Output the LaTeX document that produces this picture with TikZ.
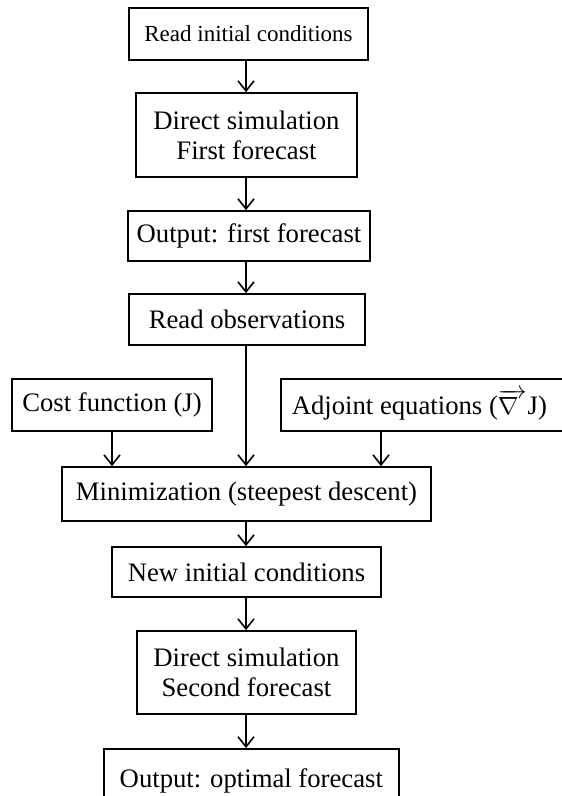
\documentclass[tikz,border=0pt]{standalone}
\usepackage{fontspec}
\setmainfont{Liberation Serif}
\usetikzlibrary{arrows.meta}
\tikzset{
  box/.style={draw, line width=1.7pt, inner sep=0pt, align=center,
    font=\fontsize{26.7}{30}\selectfont},
  arr/.style={line width=1.6pt, -{Straight Barb[length=10pt,width=16pt,line width=1.6pt]}}
}
\newcommand{\boxat}[6]{% name, x1, x2, y1, y2, text
  \node[box, minimum width=#3pt-#2pt, minimum height=#5pt-#4pt]
    (#1) at ({(#2+#3)/2},{(#4+#5)/2}) {#6};}
\begin{document}
\begin{tikzpicture}[x=1pt,y=-1pt]
\useasboundingbox (0,0) rectangle (562,796);
\clip (0,0) rectangle (562,796);
\node[box, font=\fontsize{23}{26}\selectfont, minimum width=239pt, minimum height=52pt]
  (init) at (248.5,34) {Read initial conditions};
\boxat{sim1}{136}{357}{93}{177}{Direct simulation\\First forecast}
\boxat{out1}{128}{370}{211}{261}{Output: first forecast}
\boxat{obs}{129}{365}{294}{345}{Read observations}
\boxat{cost}{12}{212}{379}{431}{Cost function (J)}
\node[box, minimum width=290pt, minimum height=52pt, anchor=west]
  (adj) at (280,405) {\hspace*{-13pt}Adjoint equations ($\overrightarrow{\nabla\hspace{8pt}}$\hspace{1pt}J)};
\boxat{min}{62}{431}{467}{521}{Minimization (steepest descent)}
\boxat{new}{112}{381}{547}{597}{New initial conditions}
\boxat{sim2}{137}{356}{631}{714}{Direct simulation\\Second forecast}
\node[box, minimum width=295pt, minimum height=64pt, anchor=north west]
  (out2) at (103,748) {\raisebox{6pt}{Output: optimal forecast}};
% main chain
\draw[arr] (init.south -| 246,0) -- (sim1.north -| 246,0);
\draw[arr] (sim1.south -| 246,0) -- (out1.north -| 246,0);
\draw[arr] (out1.south -| 246,0) -- (obs.north -| 246,0);
\draw[arr] (obs.south -| 246,0) -- (min.north -| 246,0);
\draw[arr] (cost.south) -- (cost.south |- min.north);
\draw[arr] ([xshift=101pt]adj.south west) -- ([xshift=101pt]adj.south west |- min.north);
\draw[arr] (min.south -| 246,0) -- (new.north -| 246,0);
\draw[arr] (new.south -| 246,0) -- (sim2.north -| 246,0);
\draw[arr] (sim2.south -| 246,0) -- (out2.north -| 246,0);
\end{tikzpicture}
\end{document}
